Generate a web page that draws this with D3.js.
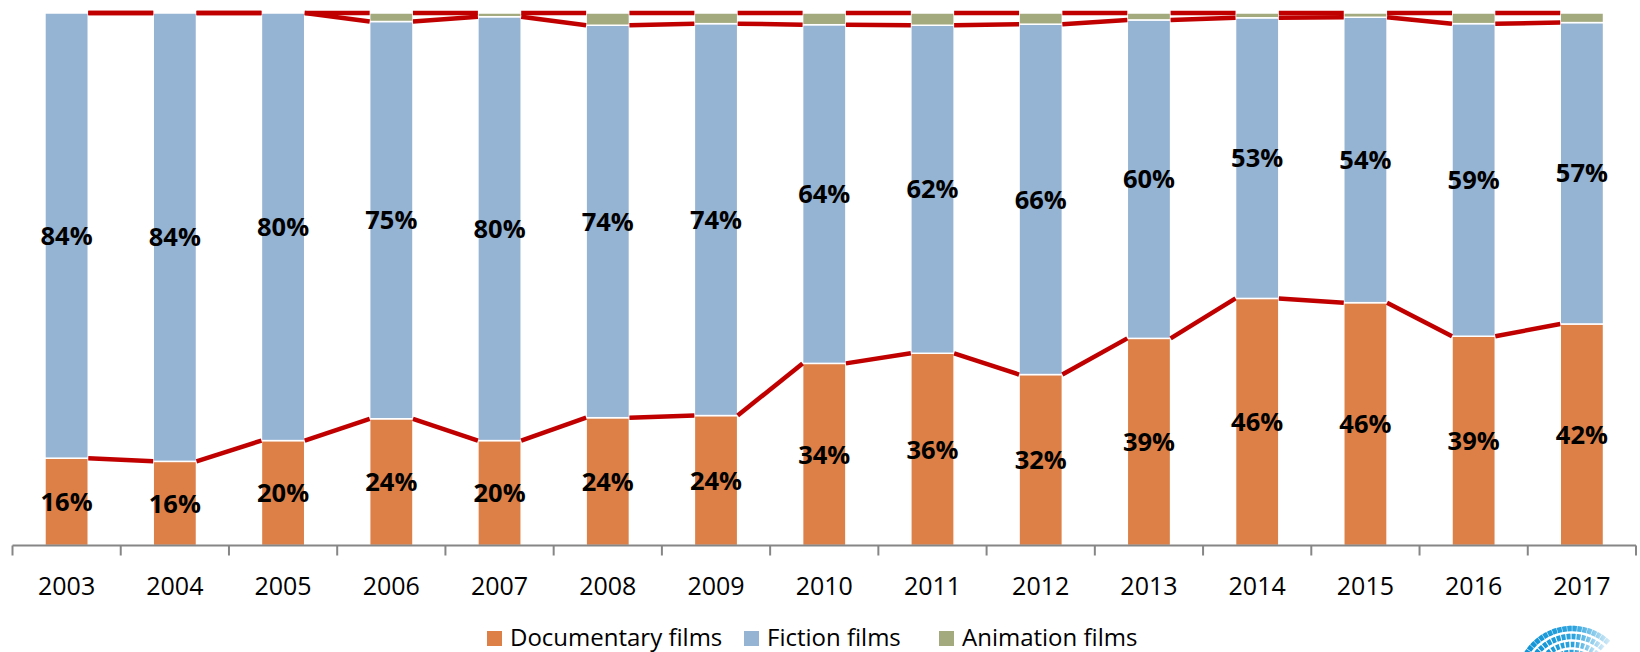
<!DOCTYPE html>
<meta charset="utf-8">
<style>
body { margin: 0; background: #fff; }
text { font-family: "Open Sans", "Noto Sans", sans-serif; }
.val { font-weight: bold; font-size: 25.5px; fill: #000; }
.year { font-size: 25px; fill: #000; }
.legend text { font-size: 24px; fill: #000; }
.serieslines { fill: none; stroke: #c00000; stroke-width: 4.5px; }
</style>
<svg width="1640" height="652"></svg>
<script src="https://d3js.org/d3.v7.min.js"></script>
<script>

var years = ["2003","2004","2005","2006","2007","2008","2009","2010","2011","2012","2013","2014","2015","2016","2017"];

// shares in %
var documentary = [16.4, 15.8, 19.7, 23.8, 19.7, 24.0, 24.4, 34.2, 36.1, 32.1, 38.9, 46.4, 45.6, 39.3, 41.6];
var fiction     = [83.6, 84.2, 80.3, 74.6, 79.6, 73.7, 73.6, 63.6, 61.6, 65.8, 59.8, 52.7, 53.6, 58.7, 56.6];
var animation   = [0,    0,    0,    1.6,  0.7,  2.3,  2.0,  2.2,  2.3,  2.1,  1.3,  0.9,  0.8,  2.0,  1.8];

var seriesNames  = ["Documentary films", "Fiction films", "Animation films"];
var seriesColors = ["#dd8048", "#95b3d3", "#a3aa7e"];

var svg = d3.select("svg");

var x = d3.scaleBand()
    .domain(years)
    .range([12.5, 1636])
    .paddingInner(0.6)
    .paddingOuter(0.3);

var xAxis = d3.scaleBand()
    .domain(years)
    .range([12.5, 1636]);

var y = d3.scaleLinear()
    .domain([0, 100])
    .range([545.5, 13]);

var rows = years.map(function(yr, i) {
  return { year: yr, doc: documentary[i], fic: fiction[i], anim: animation[i] };
});

var stack = d3.stack().keys(["doc", "fic", "anim"]);
var layers = stack(rows);

// bars
var layer = svg.append("g").selectAll("g")
  .data(layers)
  .enter().append("g")
    .attr("fill", function(d, i) { return seriesColors[i]; });

layer.selectAll("rect")
  .data(function(d) { return d; })
  .enter().append("rect")
    .attr("x", function(d) { return x(d.data.year); })
    .attr("width", x.bandwidth())
    .attr("y", function(d) { return y(d[1]); })
    .attr("height", function(d) { return Math.max(0, y(d[0]) - y(d[1])); })
    .attr("stroke", "#fff")
    .attr("stroke-width", 1.5);

// series lines between bars
var sl = svg.append("g").attr("class", "serieslines");
layers.forEach(function(L) {
  for (var i = 0; i < L.length - 1; i++) {
    sl.append("line")
      .attr("x1", x(years[i]) + x.bandwidth())
      .attr("y1", y(L[i][1]))
      .attr("x2", x(years[i + 1]))
      .attr("y2", y(L[i + 1][1]));
  }
});

// value labels for documentary and fiction
[0, 1].forEach(function(k) {
  svg.append("g").selectAll("text")
    .data(layers[k])
    .enter().append("text")
      .attr("class", "val")
      .attr("x", function(d) { return x(d.data.year) + x.bandwidth() / 2; })
      .attr("y", function(d) { return (y(d[0]) + y(d[1])) / 2; })
      .attr("text-anchor", "middle")
      .attr("dy", "0.36em")
      .text(function(d) { return Math.round(d[1] - d[0]) + "%"; });
});

// axis
var ax = svg.append("g").attr("transform", "translate(0," + y(0) + ")");
ax.append("line")
    .attr("x1", xAxis.range()[0]).attr("x2", xAxis.range()[1])
    .attr("stroke", "#868686").attr("stroke-width", 2);
ax.selectAll(".tk")
  .data(years.map(function(d) { return xAxis(d); }).concat([xAxis.range()[1]]))
  .enter().append("line")
    .attr("class", "tk")
    .attr("x1", function(d) { return d; }).attr("x2", function(d) { return d; })
    .attr("y1", 0).attr("y2", 10)
    .attr("stroke", "#868686").attr("stroke-width", 2);
ax.selectAll(".year")
  .data(years)
  .enter().append("text")
    .attr("class", "year")
    .attr("x", function(d) { return xAxis(d) + xAxis.bandwidth() / 2; })
    .attr("y", 49)
    .attr("text-anchor", "middle")
    .text(function(d) { return d; });

// legend
var legendX = [487, 744, 939];
var lg = svg.append("g").attr("class", "legend");
seriesNames.forEach(function(name, i) {
  lg.append("rect")
    .attr("x", legendX[i]).attr("y", 631)
    .attr("width", 15).attr("height", 15)
    .attr("fill", seriesColors[i]);
  lg.append("text")
    .attr("x", legendX[i] + 23).attr("y", 646)
    .text(name);
});

// logo (partly cut off at bottom right)
var defs = svg.append("defs");
var grad = defs.append("linearGradient").attr("id", "lgrad")
    .attr("x1", "0").attr("x2", "1").attr("y1", "0").attr("y2", "0");
grad.append("stop").attr("offset", "0").attr("stop-color", "#0f93d6");
grad.append("stop").attr("offset", "0.6").attr("stop-color", "#2ea4de");
grad.append("stop").attr("offset", "1").attr("stop-color", "#cfe8f6");
var logo = svg.append("g").attr("transform", "translate(1572,682)");
[56, 48, 40, 32].forEach(function(r) {
  logo.append("path")
    .attr("d", d3.arc().innerRadius(r - 2.5).outerRadius(r - 2.5)({ startAngle: -1.1, endAngle: 0.75 }))
    .attr("fill", "none")
    .attr("stroke", "url(#lgrad)")
    .attr("stroke-width", 5.5)
    .attr("stroke-dasharray", "3.5 1.5");
});

</script>
